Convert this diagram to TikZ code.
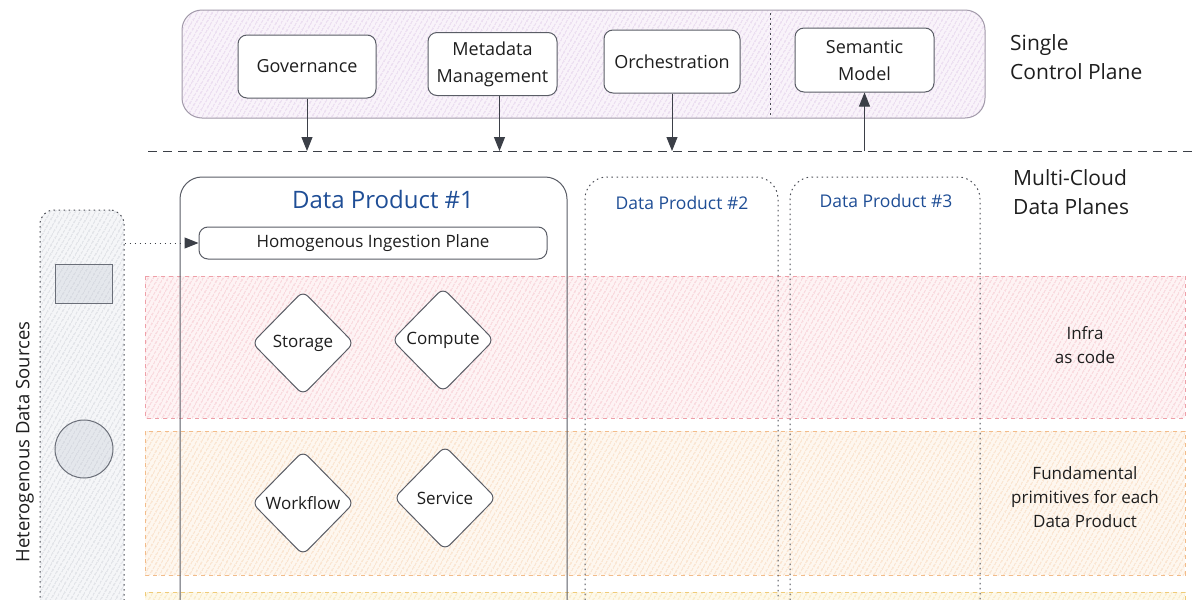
\documentclass[tikz,border=0pt]{standalone}
\usepackage{fontspec}
\setmainfont{Open Sans}
\usetikzlibrary{shapes.geometric,patterns.meta,arrows.meta}
\definecolor{ink}{HTML}{1E1E1E}
\definecolor{dpblue}{HTML}{1F4E96}
\definecolor{boxline}{HTML}{5A5D66}
\definecolor{arrowc}{HTML}{3B3F47}
\definecolor{cpline}{HTML}{A29AAA}
\definecolor{cpbg}{HTML}{F9F3FA}
\definecolor{cphatch}{HTML}{D6BCE2}
\definecolor{pinkbg}{HTML}{FEF3F4}
\definecolor{pinkhatch}{HTML}{F2B0BB}
\definecolor{pinkline}{HTML}{EEA0A8}
\definecolor{orbg}{HTML}{FEF7EF}
\definecolor{orhatch}{HTML}{F5C9A0}
\definecolor{orline}{HTML}{F2BC8A}
\definecolor{yebg}{HTML}{FEF9EA}
\definecolor{yehatch}{HTML}{F3D897}
\definecolor{yeline}{HTML}{EFCB78}
\definecolor{srcbg}{HTML}{F5F6F8}
\definecolor{srchatch}{HTML}{C2C7D0}
\definecolor{srcline}{HTML}{4A4D55}
\definecolor{shapefill}{HTML}{E4E7EC}
\definecolor{shapeline}{HTML}{6A6E78}
\begin{document}
\begin{tikzpicture}[x=1pt,y=-1pt,
  hatch/.style={pattern={Lines[angle=60,distance=4pt,line width=0.7pt]}},
  box/.style={draw=boxline, fill=white, line width=1pt, rounded corners=9pt, text=ink,
    font=\fontsize{18}{27}\selectfont, align=center, inner sep=0pt,
    minimum width=138pt, minimum height=63pt},
  dia/.style={diamond, aspect=1, draw=boxline, fill=white, line width=1pt, rounded corners=7pt,
    minimum width=102pt, minimum height=104pt, inner sep=0pt, text=ink,
    font=\fontsize{17}{20}\selectfont},
  conn/.style={-{Triangle[length=14pt,width=11pt,fill=arrowc]}, line width=1pt, draw=arrowc},
  dotconn/.style={-{Triangle[length=14pt,width=11pt,fill=arrowc]}, line width=1pt, draw=arrowc,
    dash pattern=on 1.5pt off 3.5pt},
  dotbox/.style={draw=srcline, line width=1pt, dash pattern=on 1.5pt off 3.5pt, rounded corners=22pt},
  band/.style={line width=0.8pt, dash pattern=on 4pt off 4pt},
  side/.style={text=ink, font=\fontsize{21}{29}\selectfont, align=left, inner sep=0pt},
  note/.style={text=ink, font=\fontsize{17}{24}\selectfont, align=center, inner sep=0pt},
  dptitle/.style={text=dpblue, inner sep=0pt}
]
\clip (0,0) rectangle (1200,600);
\fill[white] (0,0) rectangle (1200,600);

% ---- bands ----
\path[band, draw=pinkline, preaction={fill=pinkbg}, hatch, pattern color=pinkhatch] (145,276) rectangle (1185,418);
\path[band, draw=orline, preaction={fill=orbg}, hatch, pattern color=orhatch] (145,431) rectangle (1185,575);
\path[band, draw=yeline, preaction={fill=yebg}, hatch, pattern color=yehatch] (145,592) rectangle (1185,660);

% ---- control plane ----
\node[draw=cpline, line width=1pt, rounded corners=20pt, preaction={fill=cpbg}, hatch, pattern color=cphatch,
  minimum width=803pt, minimum height=108pt, inner sep=0pt] (cp) at (583.5,64) {};
\coordinate (divtop) at (770,13);
\coordinate (divbot) at (770,115);
\draw[srcline, line width=1pt, dash pattern=on 1.5pt off 3.5pt] (divtop) -- (divbot);

\node[box] (gov) at (307,66.5) {Governance};
\node[box, minimum width=129pt] (meta) at (492.5,64) {Metadata\\Management};
\node[box, minimum width=136pt] (orch) at (672,61.5) {Orchestration};
\node[box, minimum width=139pt, minimum height=64pt] (sem) at (864.5,60) {Semantic\\Model};

% ---- dashed divider ----
\coordinate (dl) at (148,151);
\coordinate (dr) at (1192,151);
\draw[arrowc, line width=1pt, dash pattern=on 9pt off 6pt] (dl) -- (dr);

\draw[conn] (gov.south) -- (gov.south |- dl);
\draw[conn] ([xshift=7pt]meta.south) -- ([xshift=7pt]meta.south |- dl);
\draw[conn] (orch.south) -- (orch.south |- dl);
\draw[conn] (sem.south |- dl) -- (sem.south);

\node[side, anchor=west] (scp) at (1010,57) {Single\\Control Plane};
\node[side, anchor=west] (mcd) at (1013,192) {Multi-Cloud\\Data Planes};

% ---- data products ----
\draw[boxline, line width=1pt, rounded corners=22pt] (180,640) -- (180,177) -- (567,177) -- (567,640);
\node[dptitle, font=\fontsize{24}{28}\selectfont] (dp1) at (383,199) {Data Product \#1};
\draw[dotbox] (585,640) -- (585,177) -- (778,177) -- (778,640);
\node[dptitle, font=\fontsize{17.5}{20}\selectfont] (dp2) at (682,203) {Data Product \#2};
\draw[dotbox] (790,640) -- (790,177) -- (980,177) -- (980,640);
\node[dptitle, font=\fontsize{17.5}{20}\selectfont] (dp3) at (886,201) {Data Product \#3};

\node[box, minimum width=348pt, minimum height=32pt, font=\fontsize{17}{20}\selectfont] (ing) at (373,243) {Homogenous Ingestion Plane};

% ---- sources ----
\node[draw=srcline, line width=1pt, dash pattern=on 1.5pt off 3.5pt, rounded corners=14pt,
  preaction={fill=srcbg}, hatch, pattern color=srchatch,
  minimum width=84pt, minimum height=440pt, inner sep=0pt] (src) at (82,430) {};
\node[draw=shapeline, line width=1pt, preaction={fill=shapefill}, hatch, pattern color=srchatch,
  minimum width=57pt, minimum height=39pt, inner sep=0pt] (sq) at (83.5,283.5) {};
\node[circle, draw=shapeline, line width=1pt, preaction={fill=shapefill}, hatch, pattern color=srchatch,
  minimum size=58pt, inner sep=0pt] (circ) at (84,449) {};
\node[rotate=90, text=ink, font=\fontsize{18.5}{20}\selectfont, inner sep=0pt] (srclbl) at (25,442) {Heterogenous Data Sources};

\draw[dotconn] (src.east |- ing.west) -- (ing.west);

% ---- primitives ----
\node[dia] (stor) at (303,343) {Storage};
\node[dia] (comp) at (443,340) {Compute};
\node[dia] (wf) at (303,503) {Workflow};
\node[dia] (svc) at (445,498) {Service};

\node[note] (infra) at (1085,345) {Infra\\as code};
\node[note] (fund) at (1085,497) {Fundamental\\primitives for each\\Data Product};
\end{tikzpicture}
\end{document}
